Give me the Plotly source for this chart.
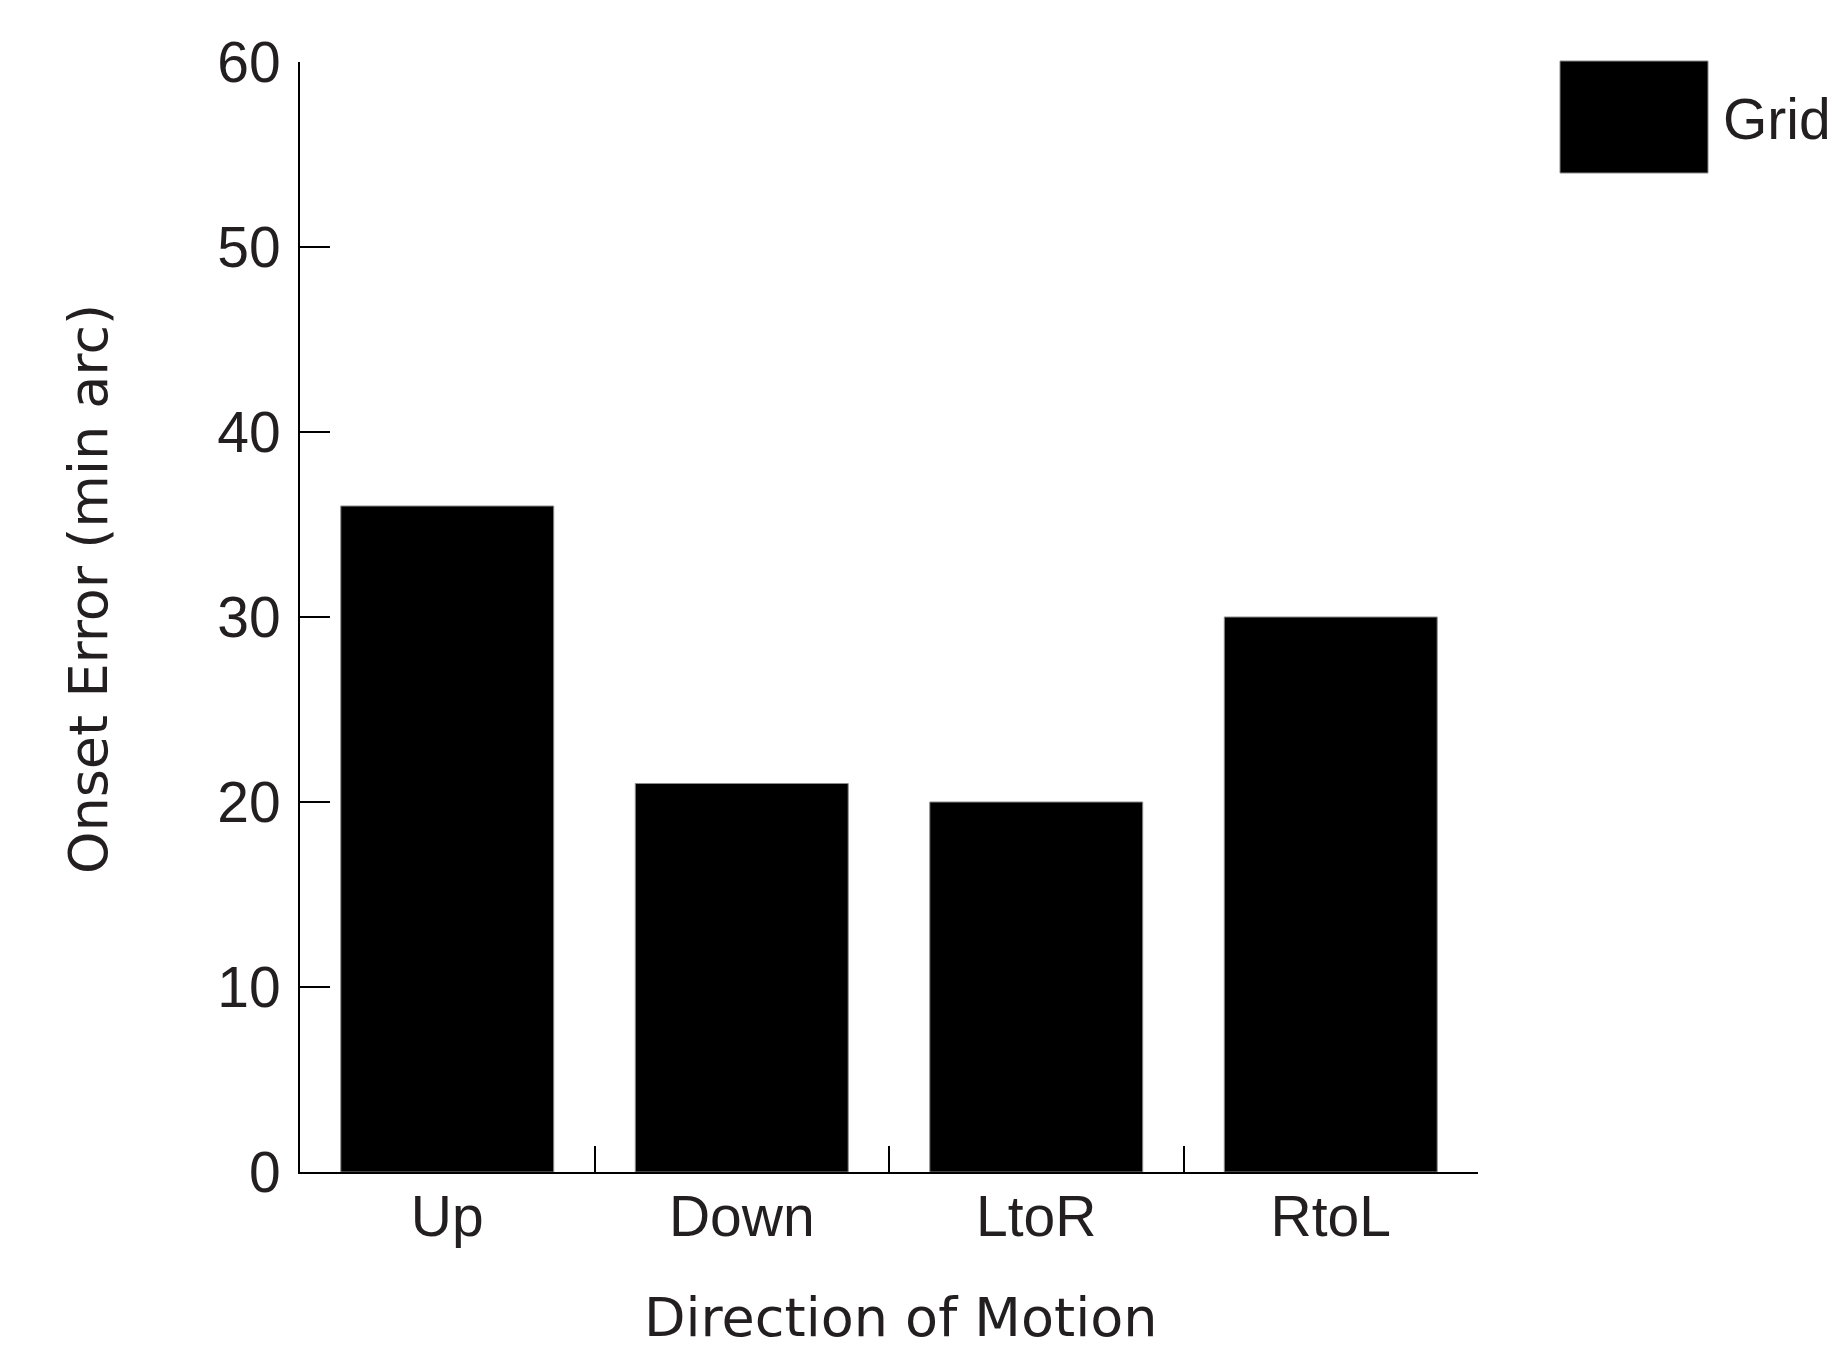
import plotly.graph_objects as go

# Mean onset error for each direction of motion
directions = ["Up", "Down", "LtoR", "RtoL"]
onset_error = [36, 21, 20, 30]
series_name = "Grid"
y_ticks = [0, 10, 20, 30, 40, 50, 60]

W, H = 1833, 1349
M_L, M_R, M_T, M_B = 300, 355, 62, 177
PW = W - M_L - M_R
PH = H - M_T - M_B

INK = "#231f20"
TICK_FONT = dict(family="Liberation Sans, Arial, sans-serif", size=57, color=INK)
TITLE_FONT = dict(family="DejaVu Sans, sans-serif", size=54, color=INK)


def px_x(px):
    return (px - M_L) / PW


def px_y(py):
    return (H - M_B - py) / PH


fig = go.Figure(
    go.Bar(
        x=directions,
        y=onset_error,
        name=series_name,
        width=0.723,
        marker=dict(color="#000000", line=dict(color="#8a8a8a", width=1)),
        showlegend=False,
    )
)

fig.update_layout(
    width=W,
    height=H,
    margin=dict(l=M_L, r=M_R, t=M_T, b=M_B, autoexpand=False),
    paper_bgcolor="white",
    plot_bgcolor="white",
    xaxis=dict(
        range=[-0.5, 3.5],
        showline=True,
        linecolor="#000000",
        linewidth=2,
        ticks="inside",
        tickson="boundaries",
        ticklen=26,
        tickwidth=2,
        tickcolor="#000000",
        showgrid=False,
        zeroline=False,
        tickfont=TICK_FONT,
        ticklabelstandoff=-6,
    ),
    yaxis=dict(
        range=[0, 60],
        tickvals=y_ticks,
        showline=True,
        linecolor="#000000",
        linewidth=2,
        ticks="inside",
        ticklen=30,
        tickwidth=2,
        tickcolor="#000000",
        showgrid=False,
        zeroline=False,
        tickfont=TICK_FONT,
        ticklabelstandoff=6,
    ),
    shapes=[
        # legend swatch
        dict(
            type="rect",
            xref="paper",
            yref="paper",
            x0=px_x(1560),
            x1=px_x(1708),
            y0=px_y(173),
            y1=px_y(61),
            fillcolor="#000000",
            line=dict(color="#8a8a8a", width=1),
        )
    ],
    annotations=[
        dict(
            text=series_name,
            xref="paper",
            yref="paper",
            x=px_x(1721),
            y=px_y(119),
            xanchor="left",
            yanchor="middle",
            showarrow=False,
            font=TICK_FONT,
        ),
        dict(
            text="Direction of Motion",
            xref="paper",
            yref="paper",
            x=px_x(900),
            y=px_y(1317),
            xanchor="center",
            yanchor="middle",
            showarrow=False,
            font=TITLE_FONT,
        ),
        dict(
            text="Onset Error (min arc)",
            xref="paper",
            yref="paper",
            x=px_x(88),
            y=px_y(589),
            xanchor="center",
            yanchor="middle",
            textangle=-90,
            showarrow=False,
            font=TITLE_FONT,
        ),
    ],
)

fig.write_html("out.html")
